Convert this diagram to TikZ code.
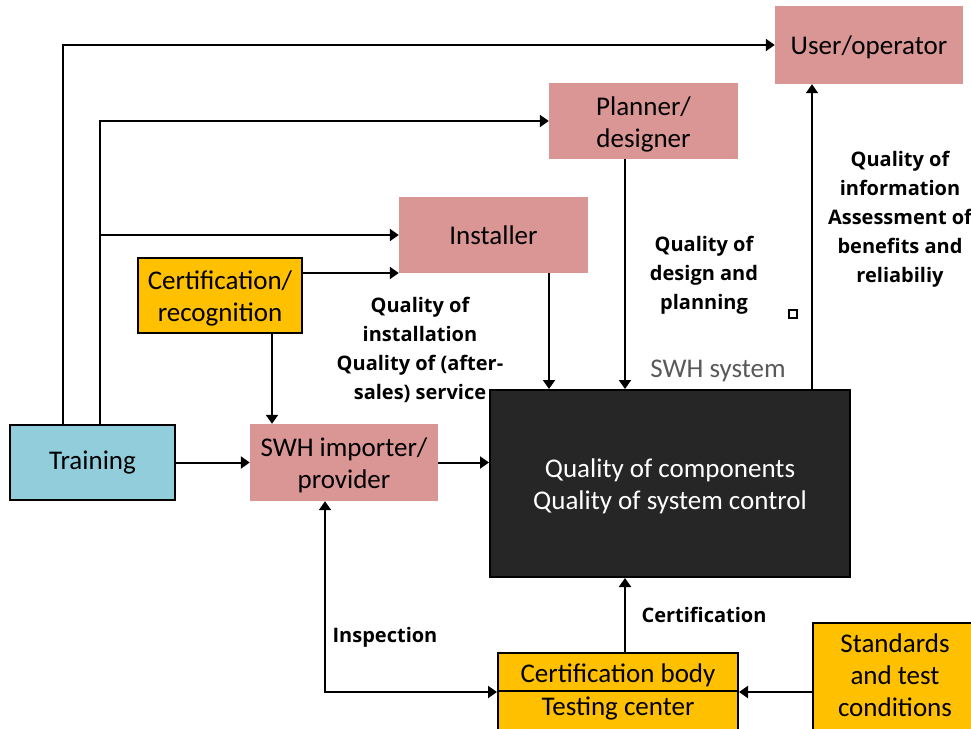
\documentclass[tikz,border=0pt]{standalone}
\usepackage{fontspec}
\setmainfont{Carlito}
\newfontfamily\lblfont{Open Sans}
\usetikzlibrary{arrows.meta}

\definecolor{pinkfill}{HTML}{D99694}
\definecolor{orangefill}{HTML}{FFC000}
\definecolor{bluefill}{HTML}{92CDDC}
\definecolor{darkfill}{HTML}{262626}
\definecolor{greytext}{HTML}{595959}

\begin{document}
\begin{tikzpicture}[x=1pt,y=-1pt,
  box/.style={rectangle, inner sep=0pt, align=center, font=\fontsize{27}{32}\selectfont},
  twoline/.style={text height=52pt, text depth=0pt},
  role/.style={box, fill=pinkfill},
  certstyle/.style={box, fill=orangefill, draw=black, line width=2pt},
  conn/.style={line width=2pt, -{Triangle[length=9pt,width=12pt]}},
  lbl/.style={align=center, inner sep=0pt, font=\lblfont\bfseries\fontsize{20}{29}\selectfont}
]
\useasboundingbox (0,0) rectangle (971,728);
\clip (0,0) rectangle (971,728);

% actors and bodies
\node[role, minimum width=188pt, minimum height=78pt, text height=23pt] (user) at (869,45) {User/operator};
\node[role, twoline, minimum width=189pt, minimum height=76pt] (planner) at (643.5,121) {Planner/\\designer};
\node[role, minimum width=189pt, minimum height=76pt] (installer) at (493.5,235) {Installer};
\node[certstyle, twoline, minimum width=164pt, minimum height=75pt] (certrec) at (220,295.5) {Certification/\\recognition};
\node[box, fill=bluefill, draw=black, line width=2pt, minimum width=165pt, minimum height=75pt] (training) at (92.5,462.5) {Training};
\node[role, twoline, minimum width=188pt, minimum height=77pt] (importer) at (344,462.5) {SWH importer/\\provider};
\node[box, twoline, fill=darkfill, draw=black, line width=2pt, text=white, minimum width=360pt, minimum height=187pt] (swh) at (670,483.5) {Quality of components\\Quality of system control};
\node[text=greytext, font=\fontsize{27}{32}\selectfont, inner sep=0pt] (swhlabel) at (718,371) {SWH system};

% certification body / testing center
\node[certstyle, minimum width=240pt, minimum height=38pt, text height=26pt] (certtop) at (618,672) {Certification body};
\node[certstyle, minimum width=240pt, text height=24pt, text depth=36pt, anchor=north] (certbot) at ([yshift=2pt]certtop.south) {Testing center};

% standards box
\node[certstyle, minimum width=170pt, minimum height=130pt, anchor=north west] (std) at (812,622) {};
\node[box] (stdtext) at (895,675) {Standards\\and test\\conditions};

% connectors
\draw[conn] ([xshift=-29.5pt]training.north) |- (user.west);
\draw[conn] ([xshift=7.5pt]training.north) |- (planner.west);
\coordinate (branch) at ([xshift=7.5pt]training.north |- installer.west);
\draw[conn] (branch) -- (installer.west);
\draw[conn] ([yshift=22.5pt]certrec.east) -- ([yshift=22.5pt]certrec.east -| installer.west);
\draw[conn] ([xshift=52pt]certrec.south) -- ([xshift=52pt]certrec.south |- importer.north);
\draw[conn] (training.east) -- (importer.west);
\draw[conn] (importer.east) -- (importer.east -| swh.west);
\draw[conn] ([xshift=55.5pt]installer.south) -- ([xshift=55.5pt]installer.south |- swh.north);
\draw[conn] ([xshift=-18.5pt]planner.south) -- ([xshift=-18.5pt]planner.south |- swh.north);
\draw[conn] ([xshift=142pt]swh.north) -- ([xshift=142pt]swh.north |- user.south);
\draw[conn] ([xshift=7pt]certtop.north) -- ([xshift=7pt]certtop.north |- swh.south);
\draw[conn, {Triangle[length=9pt,width=12pt]}-{Triangle[length=9pt,width=12pt]}] ([xshift=-19pt]importer.south) |- (certtop.south west);
\draw[conn] (std.west |- certtop.south) -- (certtop.south east);

% small marker
\node[draw, line width=2pt, minimum size=8pt, inner sep=0pt] (marker) at (793,314) {};

% connector labels
\node[lbl] (qinst) at (420,350) {Quality of\\installation\\Quality of (after-\\sales) service};
\node[lbl] (qdes) at (704,275.5) {Quality of\\design and\\planning};
\node[lbl] (qinfo) at (900,219) {Quality of\\information\\Assessment of\\benefits and\\reliabiliy};
\node[lbl] (qcert) at (704,615) {Certification};
\node[lbl] (qinsp) at (385,637) {Inspection};
\end{tikzpicture}
\end{document}
